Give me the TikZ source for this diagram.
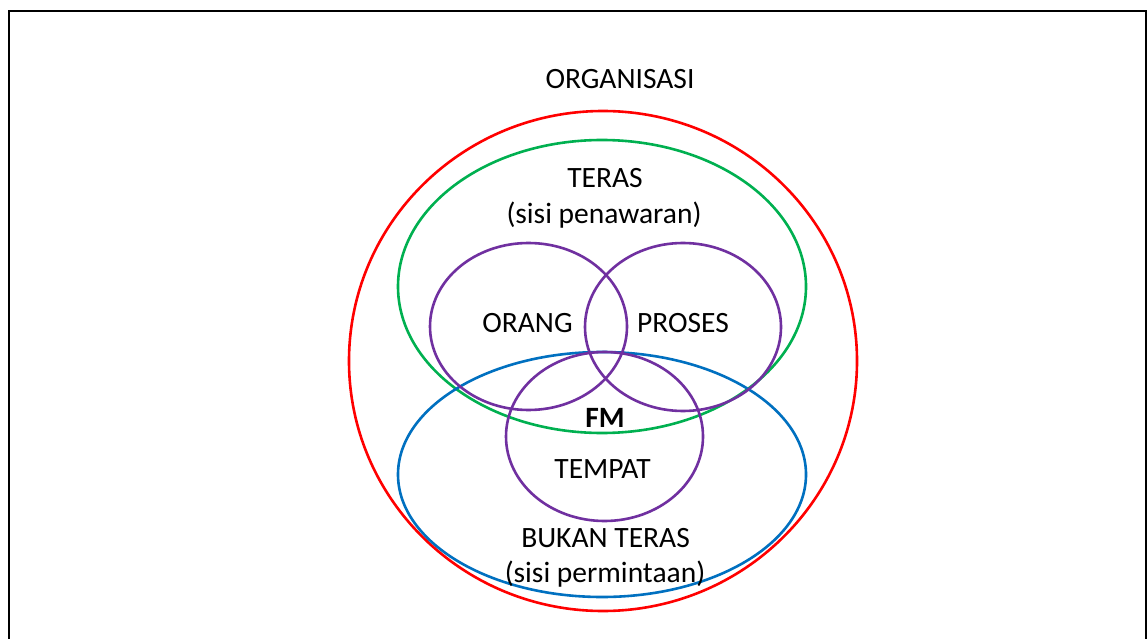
\documentclass[tikz,border=0pt]{standalone}
\usepackage{fontspec}
\setmainfont{Carlito}
\definecolor{ored}{HTML}{FF0000}
\definecolor{ogreen}{HTML}{00B050}
\definecolor{oblue}{HTML}{0070C0}
\definecolor{opurple}{HTML}{7030A0}
\begin{document}
\begin{tikzpicture}[x=1pt,y=-1pt,
  ring/.style={line width=2.6pt},
  lbl/.style={inner sep=0pt,anchor=base,font=\fontsize{29.5}{35}\selectfont},
  frameline/.style={line width=2.8pt,black}]
\useasboundingbox (0,0) rectangle (1148,639);
\fill[white] (0,0) rectangle (1148,639);
\coordinate (fbl) at (9,639);
\coordinate (ftl) at (9,11);
\coordinate (ftr) at (1146,11);
\coordinate (fbr) at (1146,639);
\draw[frameline] (fbl) -- (ftl) -- (ftr) -- (fbr);
% ellipses
\draw[ring,ored] (603,361) ellipse [x radius=254, y radius=250];
\draw[ring,ogreen] (602,286.5) ellipse [x radius=204, y radius=146.5];
\draw[ring,oblue] (602,474.5) ellipse [x radius=204, y radius=122.5];
\draw[ring,opurple] (528.5,326.5) ellipse [x radius=98.5, y radius=83.5];
\draw[ring,opurple] (683,327) ellipse [x radius=98, y radius=84];
\draw[ring,opurple] (604.5,436.5) ellipse [x radius=98.5, y radius=84.5];
% labels
\node[lbl] (org) at (620,89) {ORGANISASI};
\node[lbl] (teras) at (605,188) {TERAS};
\node[lbl] (terasb) at (604,223) {(sisi penawaran)};
\node[lbl] (orang) at (527.5,332) {ORANG};
\node[lbl] (proses) at (683,332) {PROSES};
\node[lbl,font=\fontsize{29.5}{35}\selectfont\bfseries] (fm) at (605,427) {FM};
\node[lbl] (tempat) at (602.5,478) {TEMPAT};
\node[lbl] (bukan) at (605.5,547) {BUKAN TERAS};
\node[lbl] (bukanb) at (605,582) {(sisi permintaan)};
\end{tikzpicture}
\end{document}
